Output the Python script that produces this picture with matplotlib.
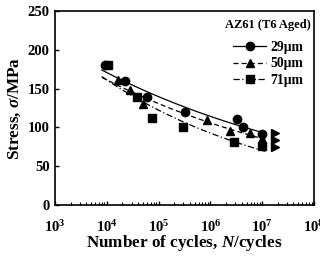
import numpy as np
import matplotlib
matplotlib.use("Agg")
import matplotlib.pyplot as plt
from matplotlib.ticker import LogLocator, NullFormatter, FixedLocator

plt.rcParams["font.family"] = ["Liberation Serif", "DejaVu Serif"]
plt.rcParams["font.weight"] = "bold"
plt.rcParams["mathtext.fontset"] = "custom"
plt.rcParams["mathtext.rm"] = "Liberation Serif:bold"
plt.rcParams["mathtext.it"] = "Liberation Serif:italic:bold"
plt.rcParams["mathtext.bf"] = "Liberation Serif:bold"

# fatigue data
cycles_29 = [9.2e3, 2.2e4, 6.0e4, 3.2e5, 3.2e6, 4.3e6, 1.0e7]
stress_29 = [180, 160, 139, 120, 111, 100, 92]

cycles_50 = [1.65e4, 2.8e4, 5.0e4, 8.5e5, 2.4e6, 5.8e6, 1.0e7]
stress_50 = [161, 148, 130, 110, 95, 93, 85]

cycles_71 = [1.05e4, 3.8e4, 7.4e4, 3.0e5, 2.8e6, 1.0e7]
stress_71 = [180, 139, 112, 100, 81, 76]

# run-out arrows
runout_cycles = [1.75e7, 1.75e7, 1.75e7]
runout_stress = [93, 84, 75]

fit_range = [8e3, 1.15e7]

series = [
    ("29\u03bcm", cycles_29, stress_29, "o", "-"),
    ("50\u03bcm", cycles_50, stress_50, "^", (0, (4, 2.5))),
    ("71\u03bcm", cycles_71, stress_71, "s", (0, (5, 2, 1, 2))),
]

fig = plt.figure(figsize=(3.2, 2.56), dpi=100)
ax = fig.add_axes([0.172, 0.199, 0.809, 0.758])

handles = []
for label, n, s, marker, ls in series:
    # Basquin fit in log-log space
    b, a = np.polyfit(np.log10(n), np.log10(s), 1)
    xf = np.logspace(np.log10(fit_range[0]), np.log10(fit_range[1]), 50)
    ax.plot(xf, 10 ** (a + b * np.log10(xf)), color="black", linestyle=ls, linewidth=0.9)
    ax.plot(n, s, linestyle="none", marker=marker, color="black", markersize=6)
    h, = ax.plot([], [], color="black", linestyle=ls, marker=marker, markersize=6, linewidth=0.9)
    handles.append((h, label))

ax.plot(runout_cycles, runout_stress, linestyle="none", marker=">", color="black", markersize=6)

ax.set_xscale("log")
ax.set_xlim(1e3, 1e8)
ax.set_ylim(0, 250)
ax.yaxis.set_major_locator(FixedLocator([0, 50, 100, 150, 200, 250]))
ax.xaxis.set_major_locator(LogLocator(base=10, numticks=10))
ax.xaxis.set_minor_locator(LogLocator(base=10, subs=np.arange(2, 10), numticks=20))
ax.xaxis.set_minor_formatter(NullFormatter())

ax.tick_params(axis="x", which="major", direction="in", length=3, width=1, pad=10, labelsize=10.5)
ax.tick_params(axis="x", which="minor", direction="in", length=2.5, width=0.8)
ax.tick_params(axis="y", which="major", direction="in", length=3, width=1, pad=4, labelsize=10.5)

for sp in ax.spines.values():
    sp.set_linewidth(1.2)

ax.set_xlabel("Number of cycles, $\\it{N}$/cycles", fontsize=12.3, fontweight="bold", labelpad=-1)
ax.set_ylabel("Stress, $\\it{\\sigma}$/MPa", fontsize=12.3, fontweight="bold", labelpad=3)

leg = ax.legend([h for h, _ in handles], [l for _, l in handles],
                title="AZ61 (T6 Aged)", loc="upper right", frameon=False,
                fontsize=9.8, title_fontsize=9, handlelength=2.4,
                handletextpad=0.3, labelspacing=0.25, borderaxespad=0.2,
                bbox_to_anchor=(1.02, 1.0))
leg.get_title().set_fontweight("bold")
leg._legend_box.sep = 7

fig.savefig("out.png", dpi=100)
